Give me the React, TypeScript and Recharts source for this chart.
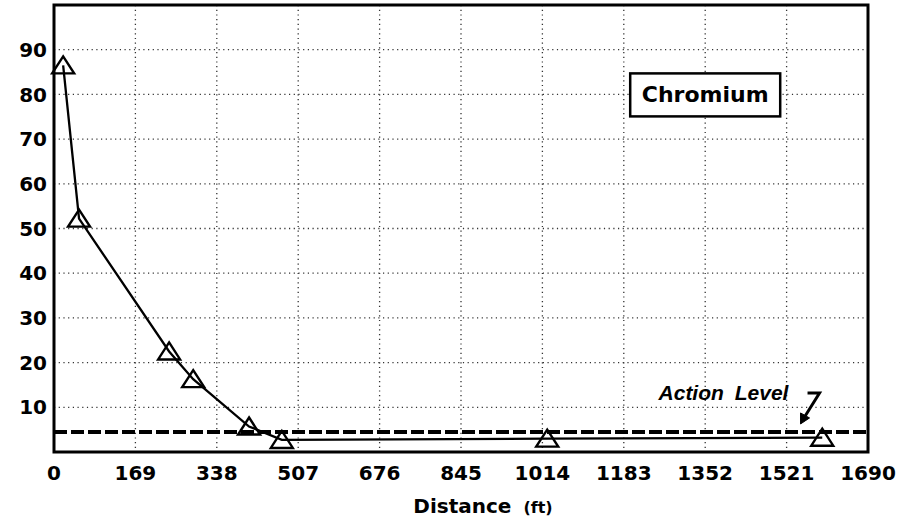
import React from "react";
import {
  LineChart,
  Line,
  XAxis,
  YAxis,
  CartesianGrid,
  ReferenceLine,
  ReferenceArea,
  ReferenceDot,
  Label,
} from "recharts";

const distances = [19, 52, 239, 289, 405, 473, 1024, 1595];
const chromium = [86.5, 52.2, 22.5, 16.3, 5.7, 2.7, 3.0, 3.2];
const xTicks = [0, 169, 338, 507, 676, 845, 1014, 1183, 1352, 1521, 1690];
const yTicks = [10, 20, 30, 40, 50, 60, 70, 80, 90];
const actionLevel = 4.5;
const seriesName = "Chromium";
const actionLabel = "Action Level";
const chromiumLabelPos = { x: 1352, y: 80 };
const arrowTipPos = { x: 1552, y: 6.5 };

const data = distances.map((d, i) => ({ d, v: chromium[i] }));

const FONT = "'DejaVu Sans', sans-serif";

const Triangle = (props: any) => {
  const { cx, cy } = props;
  if (cx == null || cy == null) return null;
  return (
    <path
      d={`M${cx},${cy - 9} L${cx + 11},${cy + 8} L${cx - 11},${cy + 8} Z`}
      fill="none"
      stroke="#000"
      strokeWidth={2.4}
      strokeLinejoin="miter"
    />
  );
};

const ChromiumBox = (props: any) => {
  const { cx, cy } = props;
  return (
    <g>
      <rect x={cx - 75} y={cy - 21} width={150} height={43} fill="#fff" stroke="#000" strokeWidth={2.5} />
      <text x={cx} y={cy + 8} textAnchor="middle" fontFamily={FONT} fontWeight="bold" fontSize={22} fill="#000">
        {seriesName}
      </text>
    </g>
  );
};

const ActionArrow = (props: any) => {
  const { cx, cy } = props;
  return (
    <g>
      <text
        x={cx - 143}
        y={cy - 23}
        fontFamily="'Liberation Sans', Arial, sans-serif"
        fontStyle="italic"
        fontWeight="bold"
        fontSize={21}
        wordSpacing={5}
        fill="#000"
      >
        {actionLabel}
      </text>
      <path d={`M${cx + 6},${cy - 30} L${cx + 18},${cy - 30} L${cx + 3},${cy - 6}`} fill="none" stroke="#000" strokeWidth={3} />
      <path d={`M${cx - 1},${cy + 1} L${cx - 1},${cy - 10} L${cx + 8},${cy - 5} Z`} fill="#000" stroke="#000" strokeWidth={1} />
    </g>
  );
};

const XLabel = (props: any) => {
  const { viewBox } = props;
  const cx = viewBox.x + viewBox.width / 2;
  return (
    <text x={cx + 22} y={viewBox.y + 61} textAnchor="middle" fontFamily={FONT} fontWeight="bold" fill="#000">
      <tspan fontSize={20}>Distance</tspan>
      <tspan fontSize={16} dx={12}>(ft)</tspan>
    </text>
  );
};

export default function App() {
  return (
    <div style={{ position: "absolute", left: 0, top: 0, width: 920, height: 525, background: "#fff" }}>
      <LineChart width={920} height={525} data={data} margin={{ top: 5, right: 52, left: 0, bottom: 0 }}>
        <CartesianGrid stroke="#333" strokeDasharray="1.2 3.5" strokeWidth={1.3} />
        <XAxis
          dataKey="d"
          type="number"
          domain={[0, 1690]}
          ticks={xTicks}
          interval={0}
          axisLine={false}
          tickLine={false}
          tickSize={12}
          tickMargin={2}
          height={73}
          tick={{ fontFamily: FONT, fontWeight: "bold", fontSize: 20, fill: "#000" }}
        >
          <Label content={<XLabel />} />
        </XAxis>
        <YAxis
          type="number"
          domain={[0, 100]}
          ticks={yTicks}
          interval={0}
          axisLine={false}
          tickLine={false}
          tickSize={5}
          tickMargin={2}
          width={54}
          tick={{ fontFamily: FONT, fontWeight: "bold", fontSize: 20, fill: "#000" }}
        />
        <ReferenceArea x1={0} x2={1690} y1={0} y2={100} fill="none" stroke="#000" strokeWidth={3} />
        <ReferenceLine y={actionLevel} stroke="#000" strokeWidth={4} strokeDasharray="13 4" />
        <Line
          dataKey="v"
          type="linear"
          stroke="#000"
          strokeWidth={2.3}
          dot={<Triangle />}
          activeDot={false}
          isAnimationActive={false}
        />
        <ReferenceDot x={chromiumLabelPos.x} y={chromiumLabelPos.y} shape={<ChromiumBox />} />
        <ReferenceDot x={arrowTipPos.x} y={arrowTipPos.y} shape={<ActionArrow />} />
      </LineChart>
    </div>
  );
}
